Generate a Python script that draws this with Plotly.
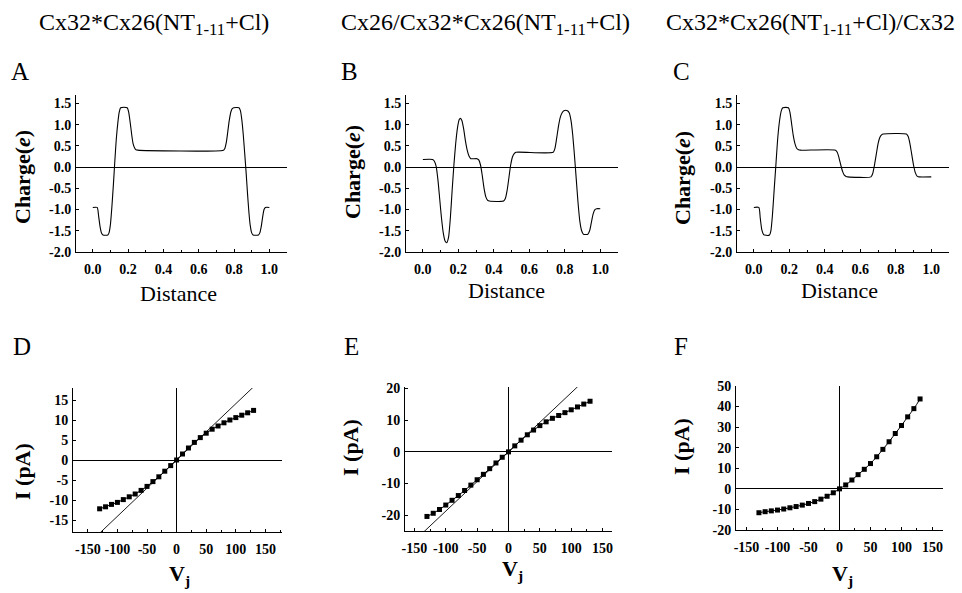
import plotly.graph_objects as go

W, H = 962, 593

# ---------------- data ----------------
titles = ["Cx32*Cx26(NT<sub>1-11</sub>+Cl)",
          "Cx26/Cx32*Cx26(NT<sub>1-11</sub>+Cl)",
          "Cx32*Cx26(NT<sub>1-11</sub>+Cl)/Cx32"]

A_x = [0.000, 0.025, 0.033, 0.042, 0.050, 0.058, 0.085, 0.092, 0.100, 0.108, 0.117, 0.125,
       0.133, 0.142, 0.150, 0.158, 0.195, 0.203, 0.212, 0.220, 0.228, 0.237, 0.245, 0.255,
       0.740, 0.748, 0.757, 0.765, 0.773, 0.782, 0.790, 0.798, 0.828, 0.836, 0.844, 0.852,
       0.860, 0.868, 0.876, 0.884, 0.892, 0.900, 0.908, 0.938, 0.946, 0.954, 0.962, 0.970,
       0.978, 1.000]
A_y = [-0.95, -0.95, -1.15, -1.42, -1.56, -1.60, -1.60, -1.55, -1.35, -0.95, -0.40, 0.15,
       0.65, 1.05, 1.30, 1.40, 1.40, 1.30, 1.05, 0.78, 0.56, 0.45, 0.41, 0.40,
       0.40, 0.44, 0.60, 0.85, 1.10, 1.30, 1.38, 1.40, 1.40, 1.33, 1.12, 0.78,
       0.35, -0.10, -0.60, -1.05, -1.38, -1.55, -1.60, -1.60, -1.55, -1.40, -1.18, -1.00,
       -0.95, -0.95]

B_x = [0.000, 0.055, 0.065, 0.075, 0.085, 0.095, 0.105, 0.115, 0.125, 0.135, 0.145, 0.155,
       0.165, 0.175, 0.185, 0.195, 0.205, 0.212, 0.220, 0.230, 0.240, 0.250, 0.260, 0.270,
       0.305, 0.315, 0.325, 0.335, 0.345, 0.355, 0.365, 0.375, 0.455, 0.465, 0.475, 0.485,
       0.495, 0.505, 0.515, 0.525, 0.735, 0.745, 0.755, 0.765, 0.775, 0.785, 0.795, 0.815,
       0.825, 0.835, 0.845, 0.855, 0.865, 0.875, 0.885, 0.895, 0.905, 0.930, 0.940, 0.950,
       0.960, 0.970, 0.980, 1.000]
B_y = [0.18, 0.18, 0.14, 0.02, -0.30, -0.75, -1.20, -1.55, -1.74, -1.78, -1.65, -1.20,
       -0.55, 0.05, 0.55, 0.92, 1.12, 1.15, 1.10, 0.90, 0.62, 0.40, 0.26, 0.20,
       0.20, 0.17, 0.05, -0.20, -0.50, -0.70, -0.78, -0.80, -0.80, -0.74, -0.55, -0.25,
       0.05, 0.24, 0.32, 0.35, 0.35, 0.45, 0.70, 0.98, 1.18, 1.28, 1.33, 1.33,
       1.28, 1.10, 0.75, 0.25, -0.30, -0.85, -1.28, -1.50, -1.58, -1.58, -1.50, -1.30,
       -1.10, -1.00, -0.98, -0.98]

C_x = [0.000, 0.028, 0.036, 0.045, 0.055, 0.060, 0.088, 0.096, 0.105, 0.115, 0.125, 0.135,
       0.145, 0.155, 0.163, 0.195, 0.203, 0.212, 0.222, 0.232, 0.242, 0.252, 0.262, 0.460,
       0.470, 0.480, 0.490, 0.500, 0.510, 0.520, 0.530, 0.660, 0.670, 0.680, 0.690, 0.700,
       0.710, 0.720, 0.730, 0.860, 0.870, 0.880, 0.890, 0.900, 0.910, 0.920, 0.930, 1.000]
C_y = [-0.95, -0.95, -1.20, -1.48, -1.59, -1.60, -1.60, -1.50, -1.12, -0.50, 0.10, 0.70,
       1.10, 1.33, 1.40, 1.40, 1.30, 1.05, 0.75, 0.55, 0.44, 0.41, 0.40, 0.40,
       0.35, 0.22, 0.05, -0.10, -0.19, -0.22, -0.23, -0.23, -0.15, 0.05, 0.30, 0.55,
       0.70, 0.76, 0.78, 0.78, 0.72, 0.55, 0.30, 0.05, -0.13, -0.21, -0.23, -0.23]

Vj = [-130, -120, -110, -100, -90, -80, -70, -60, -50, -40, -30, -20, -10, 0,
      10, 20, 30, 40, 50, 60, 70, 80, 90, 100, 110, 120, 130]
D_I = [-12.2, -11.7, -11.1, -10.6, -9.9, -9.2, -8.5, -7.6, -6.6, -5.4, -4.2, -2.8, -1.4, 0.0,
       1.5, 3.0, 4.4, 5.6, 6.7, 7.7, 8.5, 9.3, 10.0, 10.6, 11.2, 11.8, 12.4]
E_I = [-20.4, -19.4, -18.2, -16.8, -15.3, -13.8, -12.2, -10.5, -8.8, -7.1, -5.3, -3.5, -1.7, 0.0,
       1.9, 3.7, 5.4, 6.9, 8.3, 9.5, 10.6, 11.5, 12.4, 13.3, 14.2, 15.1, 16.0]
F_I = [-11.6, -11.1, -10.7, -10.3, -9.8, -9.2, -8.6, -7.9, -7.1, -6.2, -5.0, -3.6, -1.9, 0.0,
       1.9, 4.3, 6.9, 9.5, 12.3, 15.6, 19.2, 22.9, 26.9, 30.8, 35.0, 39.0, 43.7]

D_fit_x = [-130, 130]
D_fit_y = [-18.3, 18.3]
E_fit_x = [-140, 115]
E_fit_y = [-26.2, 21.5]

top_ticks = [-2.0, -1.5, -1.0, -0.5, 0.0, 0.5, 1.0, 1.5]
dist_ticks = [0.0, 0.2, 0.4, 0.6, 0.8, 1.0]
vj_ticks = [-150, -100, -50, 0, 50, 100, 150]
D_ticks = [-15, -10, -5, 0, 5, 10, 15]
E_ticks = [-20, -10, 0, 10, 20]
F_ticks = [-20, -10, 0, 10, 20, 30, 40, 50]

# ---------------- layout helpers ----------------
FONT = "Liberation Serif"


def px_x(p):
    return p / W


def px_y(p):
    return 1 - p / H


fig = go.Figure()

panels = [
    # name, box(px l, r, top, bottom), xrange, yrange, xticks, yticks, kind
    ("A", (76, 287, 95, 252), [-0.095, 1.1], [-2.0, 1.7], dist_ticks, top_ticks, "top"),
    ("B", (406, 618, 95, 252), [-0.095, 1.1], [-2.0, 1.7], dist_ticks, top_ticks, "top"),
    ("C", (737, 949, 95, 252), [-0.095, 1.1], [-2.0, 1.7], dist_ticks, top_ticks, "top"),
    ("D", (73, 282, 388, 532), [-175, 178], [-18, 18], vj_ticks, D_ticks, "iv"),
    ("E", (405, 612, 387, 531), [-165, 165], [-25, 20.5], vj_ticks, E_ticks, "iv"),
    ("F", (736, 943, 386, 530), [-167, 167], [-20, 50], vj_ticks, F_ticks, "iv"),
]

profiles = {"A": (A_x, A_y), "B": (B_x, B_y), "C": (C_x, C_y)}
ivs = {"D": D_I, "E": E_I, "F": F_I}
fits = {"D": (D_fit_x, D_fit_y), "E": (E_fit_x, E_fit_y)}

TICKFONT = dict(family=FONT, size=14, color="black", weight="bold")

for i, (name, (l, r, t, b), xr, yr, xt, yt, kind) in enumerate(panels):
    n = i + 1
    xa = "x" if n == 1 else f"x{n}"
    ya = "y" if n == 1 else f"y{n}"
    xkey = "xaxis" if n == 1 else f"xaxis{n}"
    ykey = "yaxis" if n == 1 else f"yaxis{n}"
    fig.layout[xkey] = dict(
        domain=[px_x(l), px_x(r)], range=xr, anchor=ya, automargin=False,
        tickvals=xt, ticktext=[(f"{v:.1f}" if kind == "top" else str(v)) for v in xt],
        showline=True, linecolor="black", linewidth=1, mirror=False,
        ticks="inside", ticklen=3, tickcolor="black",
        minor=dict(ticks="inside", ticklen=2, tickcolor="black",
                   dtick=0.1 if kind == "top" else 25),
        showgrid=False, zeroline=(kind == "iv"), zerolinecolor="black", zerolinewidth=1,
        tickfont=TICKFONT, ticklabelstandoff=4,
    )
    fig.layout[ykey] = dict(
        domain=[px_y(b), px_y(t)], range=yr, anchor=xa, automargin=False,
        tickvals=yt, ticktext=[(f"{v:.1f}" if kind == "top" else str(v)) for v in yt],
        showline=True, linecolor="black", linewidth=1, mirror=False,
        ticks="inside", ticklen=3, tickcolor="black",
        showgrid=False, zeroline=True, zerolinecolor="black", zerolinewidth=1,
        tickfont=TICKFONT, ticklabelstandoff=1,
    )
    if kind == "top":
        px_, py_ = profiles[name]
        fig.add_trace(go.Scatter(x=px_, y=py_, xaxis=xa, yaxis=ya, mode="lines",
                                 line=dict(color="black", width=1.1, shape="spline", smoothing=0.6),
                                 showlegend=False, hoverinfo="skip"))
    else:
        if name in fits:
            fx, fy = fits[name]
            fig.add_trace(go.Scatter(x=fx, y=fy, xaxis=xa, yaxis=ya, mode="lines",
                                     line=dict(color="black", width=0.9),
                                     showlegend=False, hoverinfo="skip"))
        fig.add_trace(go.Scatter(x=Vj, y=ivs[name], xaxis=xa, yaxis=ya, mode="lines+markers",
                                 line=dict(color="black", width=1, shape="spline"),
                                 marker=dict(symbol="square", size=5, color="black"),
                                 cliponaxis=False,
                                 showlegend=False, hoverinfo="skip"))

ann = []


def add_text(text, x, y, size, angle=0, anchor="center", bold=False):
    ann.append(dict(text=text, x=px_x(x), y=px_y(y), xref="paper", yref="paper",
                    showarrow=False, textangle=angle, xanchor=anchor, yanchor="middle",
                    font=dict(family=FONT, size=size, color="black",
                              weight="bold" if bold else "normal")))


# column titles
for t, cx in zip(titles, [154, 485, 810]):
    add_text(t, cx, 24, 24)
# panel letters
for letter, (lx, ly) in zip("ABCDEF", [(20, 72), (349, 72), (681, 71),
                                      (22, 346), (351, 346), (681, 346)]):
    add_text(letter, lx, ly, 25)
# y titles
for cx, cy in [(22, 177), (352, 172), (682, 178)]:
    add_text("Charge(<i>e</i>)", cx, cy, 22, angle=-90, bold=True)
for cx, cy in [(22, 472), (350, 448), (681, 447)]:
    add_text("I (pA)", cx, cy, 22, angle=-90, bold=True)
# x titles
for cx, cy in [(178, 293), (507, 290), (839, 290)]:
    add_text("Distance", cx, cy, 22)
for cx, cy in [(179, 575), (512, 570), (842, 575)]:
    add_text("V<sub>j</sub>", cx, cy, 22, bold=True)

fig.update_layout(
    width=W, height=H, margin=dict(l=0, r=0, t=0, b=0),
    paper_bgcolor="white", plot_bgcolor="white",
    annotations=ann, showlegend=False,
)

fig.write_html("out.html", config={"displayModeBar": False},
               post_script="document.body.style.margin='0';document.body.style.overflow='hidden';")
